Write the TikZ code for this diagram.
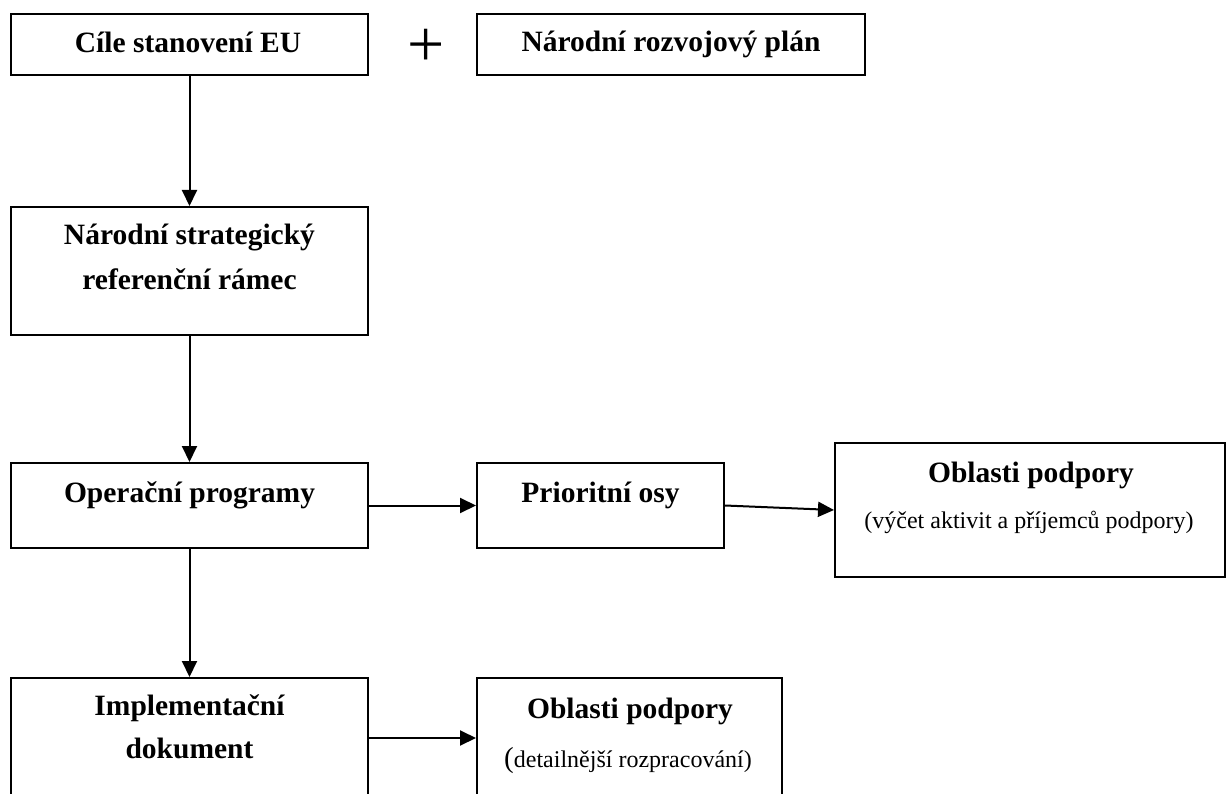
\documentclass[tikz,border=0pt]{standalone}
\usepackage{fontspec}
\setmainfont{Liberation Serif}
\usetikzlibrary{arrows.meta, positioning}

\begin{document}
\begin{tikzpicture}[x=1pt, y=-1pt,
    box/.style={draw, line width=2pt, inner sep=0pt},
    title/.style={anchor=base, inner sep=0pt, font=\fontsize{29.5}{30}\selectfont\bfseries},
    sub/.style={anchor=base, inner sep=0pt, font=\fontsize{24}{24}\selectfont},
    arr/.style={line width=2pt, -{Triangle[length=16pt, width=15pt]}}]
    \useasboundingbox (0,0) rectangle (1231,794);
    \clip (0,0) rectangle (1231,794);

    \node[box, minimum width=357pt, minimum height=61pt] (cile) at (189.5,44.5) {};
    \node[box, minimum width=388pt, minimum height=61pt] (narod) at (671,44.5) {};
    \node[box, minimum width=357pt, minimum height=128pt] (nsrr) at (189.5,271) {};
    \node[box, minimum width=357pt, minimum height=85pt] (op) at (189.5,505.5) {};
    \node[box, minimum width=247pt, minimum height=85pt] (pos) at (600.5,505.5) {};
    \node[box, minimum width=390pt, minimum height=134pt] (obl) at (1030,510) {};
    \node[box, minimum width=357pt, minimum height=120pt] (impl) at (189.5,738) {};
    \node[box, minimum width=305pt, minimum height=120pt] (obldet) at (629.5,738) {};

    \node[title] (cileT) at (188,53) {Cíle stanovení EU};
    \node[inner sep=0pt, font=\fontsize{66}{66}\selectfont] (plus) at (426,48) {+};
    \node[title] (narodT) at (671,52) {Národní rozvojový plán};
    \node[title] (nsrrA) at (189.5,245) {Národní strategický};
    \node[title] (nsrrB) at (189.5,290) {referenční rámec};
    \node[title] (opT) at (189.5,502) {Operační programy};
    \node[title] (posT) at (600.5,502) {Prioritní osy};
    \node[title] (oblT) at (1031,482) {Oblasti podpory};
    \node[sub] (oblS) at (1029,528) {(výčet aktivit a příjemců podpory)};
    \node[title] (implA) at (189.5,715) {Implementační};
    \node[title] (implB) at (189.5,758) {dokument};
    \node[title] (obldetT) at (630,718) {Oblasti podpory};
    \node[sub] (obldetS) at (628,767) {{\fontsize{29}{29}\selectfont(}detailnější rozpracování)};

    \draw[arr] (cile.south) -- (nsrr.north);
    \draw[arr] (nsrr.south) -- (op.north);
    \draw[arr] (op.south) -- (impl.north);
    \draw[arr] (op.east) -- (pos.west);
    \draw[arr] (pos.east) -- (obl.west);
    \draw[arr] (impl.east) -- (obldet.west);
\end{tikzpicture}
\end{document}
